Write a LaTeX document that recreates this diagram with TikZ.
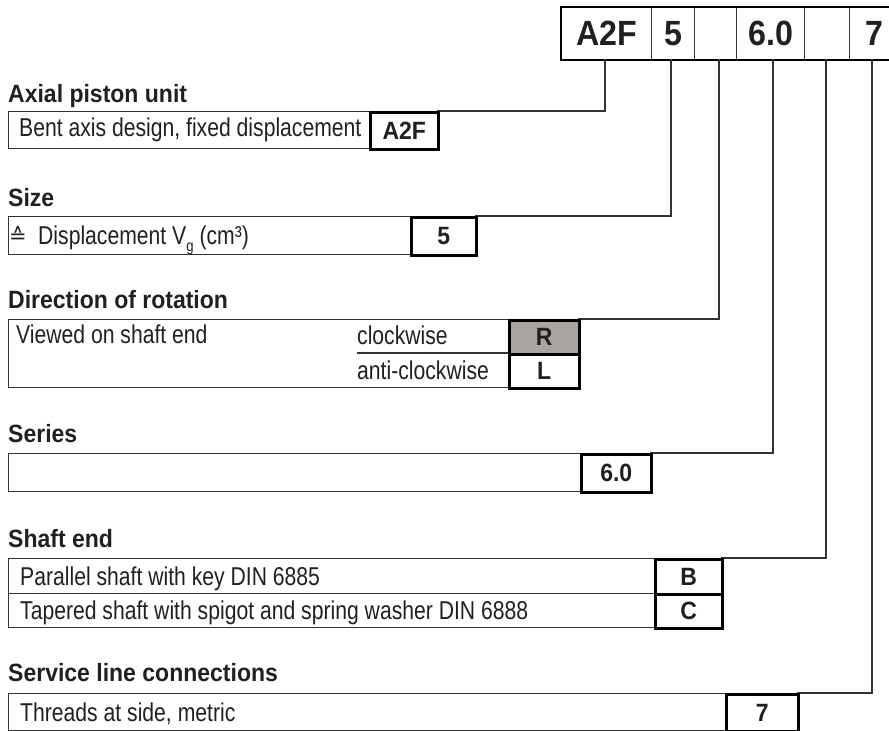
\documentclass[tikz,border=0pt]{standalone}
\usepackage{fontspec}
\newfontfamily\lightf{Liberation Sans}[FakeStretch=0.82]
\newfontfamily\boldf{Liberation Sans}[FakeStretch=0.92]
\newfontfamily\symf{DejaVu Sans}
\definecolor{txt}{HTML}{231F20}
\definecolor{ln}{HTML}{333333}
\definecolor{rgray}{HTML}{A8A4A1}
\tikzset{
  descbox/.style={draw=ln, line width=1.2pt, inner sep=0pt, anchor=north west},
  codebox/.style={draw=black, line width=2.5pt, fill=white, inner sep=0pt, anchor=north west,
                  text=txt, font=\boldf\bfseries\fontsize{25}{25}\selectfont},
  lbl/.style={anchor=base west, inner sep=0pt, text=txt, font=\lightf\fontsize{25.8}{28}\selectfont},
  heading/.style={anchor=base west, inner sep=0pt, text=txt, font=\boldf\bfseries\fontsize{25}{28}\selectfont},
  conn/.style={draw=ln, line width=1.2pt},
  hcell/.style={draw=ln, line width=1.2pt, inner sep=0pt, anchor=north west, minimum height=52pt,
                text=txt, font=\boldf\bfseries\fontsize{35}{35}\selectfont}
}
\begin{document}
\begin{tikzpicture}[x=1pt,y=-1pt]
\useasboundingbox (0,0) rectangle (889,731);
\clip (0,0) rectangle (889,731);
% header
\node[hcell, minimum width=90pt] (h1) at (561,7) {A2F};
\node[hcell, minimum width=43pt] (h2) at (651,7) {5};
\node[hcell, minimum width=42pt] (h3) at (694,7) {};
\node[hcell, minimum width=68pt] (h4) at (736,7) {6.0};
\node[hcell, minimum width=45pt] (h5) at (804,7) {};
\node[hcell, minimum width=50pt] (h6) at (849,7) {7};
\draw[black, line width=2.2pt] (h1.north west) rectangle (h6.south east);
\coordinate (p1) at (605,59);
\coordinate (p2) at (671,59);
\coordinate (p3) at (719,59);
\coordinate (p4) at (773,59);
\coordinate (p5) at (826,59);
\coordinate (p6) at (872,59);

% Axial piston unit
\node[heading] (t1) at (8,102) {Axial piston unit};
\node[descbox, minimum width=361pt, minimum height=37pt] (d1) at (8,111) {};
\node[lbl] (l1) at (19,136) {Bent axis design, fixed displacement};
\draw[conn] (p1) |- (437,111);
\node[codebox, minimum width=68pt, minimum height=37pt] (c1) at (369,111) {A2F};

% Size
\node[heading] (t2) at (8,206) {Size};
\node[descbox, minimum width=402pt, minimum height=38pt] (d2) at (8,216) {};
\node[anchor=base west, inner sep=0pt, text=txt, font=\symf\fontsize{21}{21}\selectfont] (eq) at (9,243) {≙};
\node[lbl] (l2) at (38,244) {Displacement V\raisebox{-0.28em}{\fontsize{16}{16}\selectfont g} (cm³)};
\draw[conn] (p2) |- (475,216);
\node[codebox, minimum width=65pt, minimum height=38pt] (c2) at (410,216) {5};

% Direction of rotation
\node[heading] (t3) at (8,308) {Direction of rotation};
\node[descbox, minimum width=500pt, minimum height=68pt] (d3) at (8,319) {};
\coordinate (u3) at (357,353);
\draw[conn] (u3) -- (508,353);
\node[lbl] (l3) at (16,343) {Viewed on shaft end};
\node[lbl] (l3a) at (357,344) {clockwise};
\node[lbl] (l3b) at (357,379) {anti-clockwise};
\draw[conn] (p3) |- (578,319);
\node[codebox, fill=rgray, minimum width=70pt, minimum height=34pt] (c3a) at (508,319) {R};
\node[codebox, minimum width=70pt, minimum height=34pt] (c3b) at (508,353) {L};

% Series
\node[heading] (t4) at (8,442) {Series};
\node[descbox, minimum width=572pt, minimum height=38pt] (d4) at (8,453) {};
\draw[conn] (p4) |- (650,453);
\node[codebox, minimum width=70pt, minimum height=38pt] (c4) at (580,453) {6.0};

% Shaft end
\node[heading] (t5) at (8,547) {Shaft end};
\node[descbox, minimum width=646pt, minimum height=35pt] (d5a) at (8,558) {};
\node[descbox, minimum width=646pt, minimum height=34pt] (d5b) at (8,593) {};
\node[lbl] (l5a) at (20,585) {Parallel shaft with key DIN 6885};
\node[lbl] (l5b) at (20,619) {Tapered shaft with spigot and spring washer DIN 6888};
\draw[conn] (p5) |- (721,558);
\node[codebox, minimum width=67pt, minimum height=35pt] (c5a) at (654,558) {B};
\node[codebox, minimum width=67pt, minimum height=34pt] (c5b) at (654,593) {C};

% Service line connections
\node[heading] (t6) at (8,681) {Service line connections};
\node[descbox, minimum width=717pt, minimum height=37pt] (d6) at (8,693) {};
\node[lbl] (l6) at (20,721) {Threads at side, metric};
\draw[conn] (p6) |- (797,693);
\node[codebox, minimum width=72pt, minimum height=37pt] (c6) at (725,693) {7};
\end{tikzpicture}
\end{document}
